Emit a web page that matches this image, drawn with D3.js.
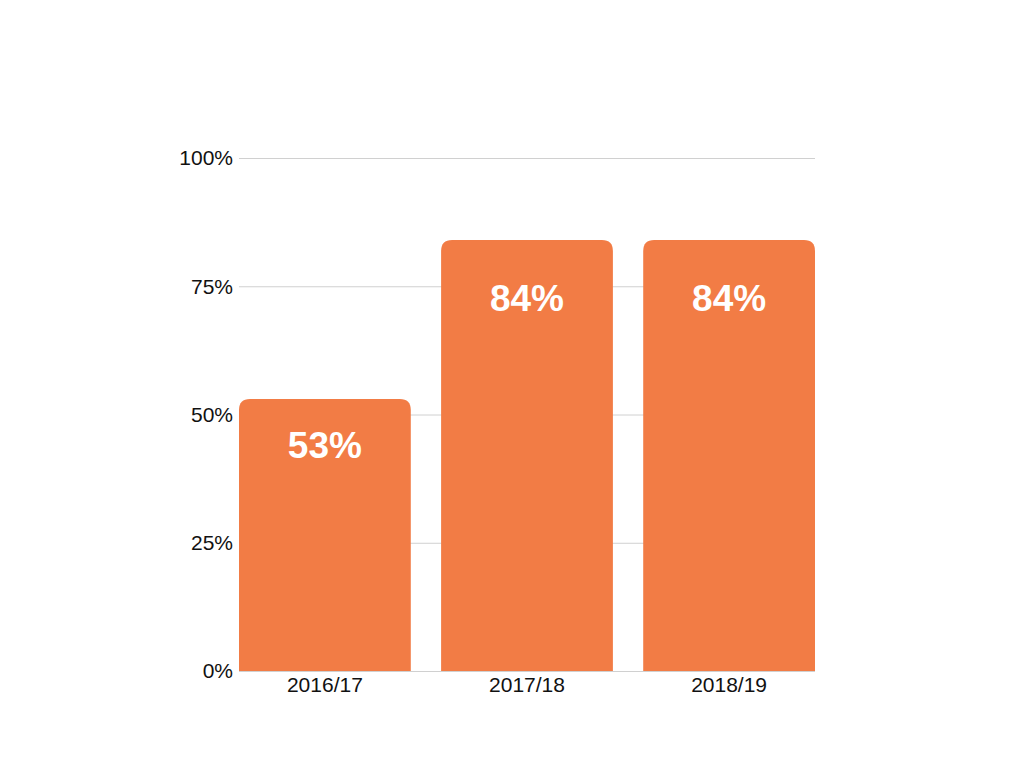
<!DOCTYPE html>
<html>
<head>
<meta charset="utf-8">
<script src="https://cdn.jsdelivr.net/npm/d3@7"></script>
<style>
  body { margin: 0; background: #fff; }
  svg { display: block; }
  text { font-family: "Liberation Sans", Arial, sans-serif; }
</style>
</head>
<body>
<script>
var years = ['2016/17', '2017/18', '2018/19']
var shares = [53, 84, 84]
var yTicks = [0, 25, 50, 75, 100]

var width = 1024
var height = 768
var margin = { left: 239, right: 209, top: 158, bottom: 97 }
var innerWidth = width - margin.left - margin.right
var innerHeight = height - margin.top - margin.bottom

var svg = d3.select('body').append('svg').attr('width', width).attr('height', height)
var g = svg.append('g').attr('transform', `translate(${margin.left},${margin.top})`)

var xScale = d3.scaleBand().domain(years).range([0, innerWidth]).paddingInner(0.15).paddingOuter(0)
var yScale = d3.scaleLinear().domain([0, 100]).range([innerHeight, 0])

// gridlines
g.selectAll('.grid').data(yTicks).enter().append('line')
    .attr('x1', 0).attr('x2', innerWidth)
    .attr('y1', d => yScale(d) + 0.5).attr('y2', d => yScale(d) + 0.5)
    .attr('stroke', '#d0d0d0').attr('stroke-width', 1)

// y tick labels
g.selectAll('.ytick').data(yTicks).enter().append('text')
    .attr('x', -6).attr('y', d => yScale(d)).attr('dy', '0.35em')
    .attr('text-anchor', 'end').attr('font-size', 21).attr('fill', '#111')
    .text(d => d + '%')

// bars with rounded top corners
var r = 11
var bw = xScale.bandwidth()
g.selectAll('.bar').data(shares).enter().append('path')
    .attr('fill', '#f27c45')
    .attr('d', (d, i) => {
        var x0 = xScale(years[i]), x1 = x0 + bw
        var y0 = yScale(d), yb = yScale(0)
        return `M${x0},${yb}V${y0 + r}Q${x0},${y0} ${x0 + r},${y0}H${x1 - r}Q${x1},${y0} ${x1},${y0 + r}V${yb}Z`
    })

// value labels (sit a bit lower in taller bars)
g.selectAll('.val').data(shares).enter().append('text')
    .attr('x', (d, i) => xScale(years[i]) + bw / 2)
    .attr('y', d => {
        var h = yScale(0) - yScale(d)
        return yScale(d) + 25.5 + 0.0755 * h
    })
    .attr('dy', '0.35em')
    .attr('text-anchor', 'middle').attr('font-size', 37).attr('font-weight', 'bold').attr('fill', '#fff')
    .text(d => d + '%')

// x labels
g.selectAll('.xlab').data(years).enter().append('text')
    .attr('x', d => xScale(d) + bw / 2)
    .attr('y', innerHeight + 14).attr('dy', '0.35em')
    .attr('text-anchor', 'middle').attr('font-size', 21).attr('fill', '#111')
    .text(d => d)
</script>
</body>
</html>
